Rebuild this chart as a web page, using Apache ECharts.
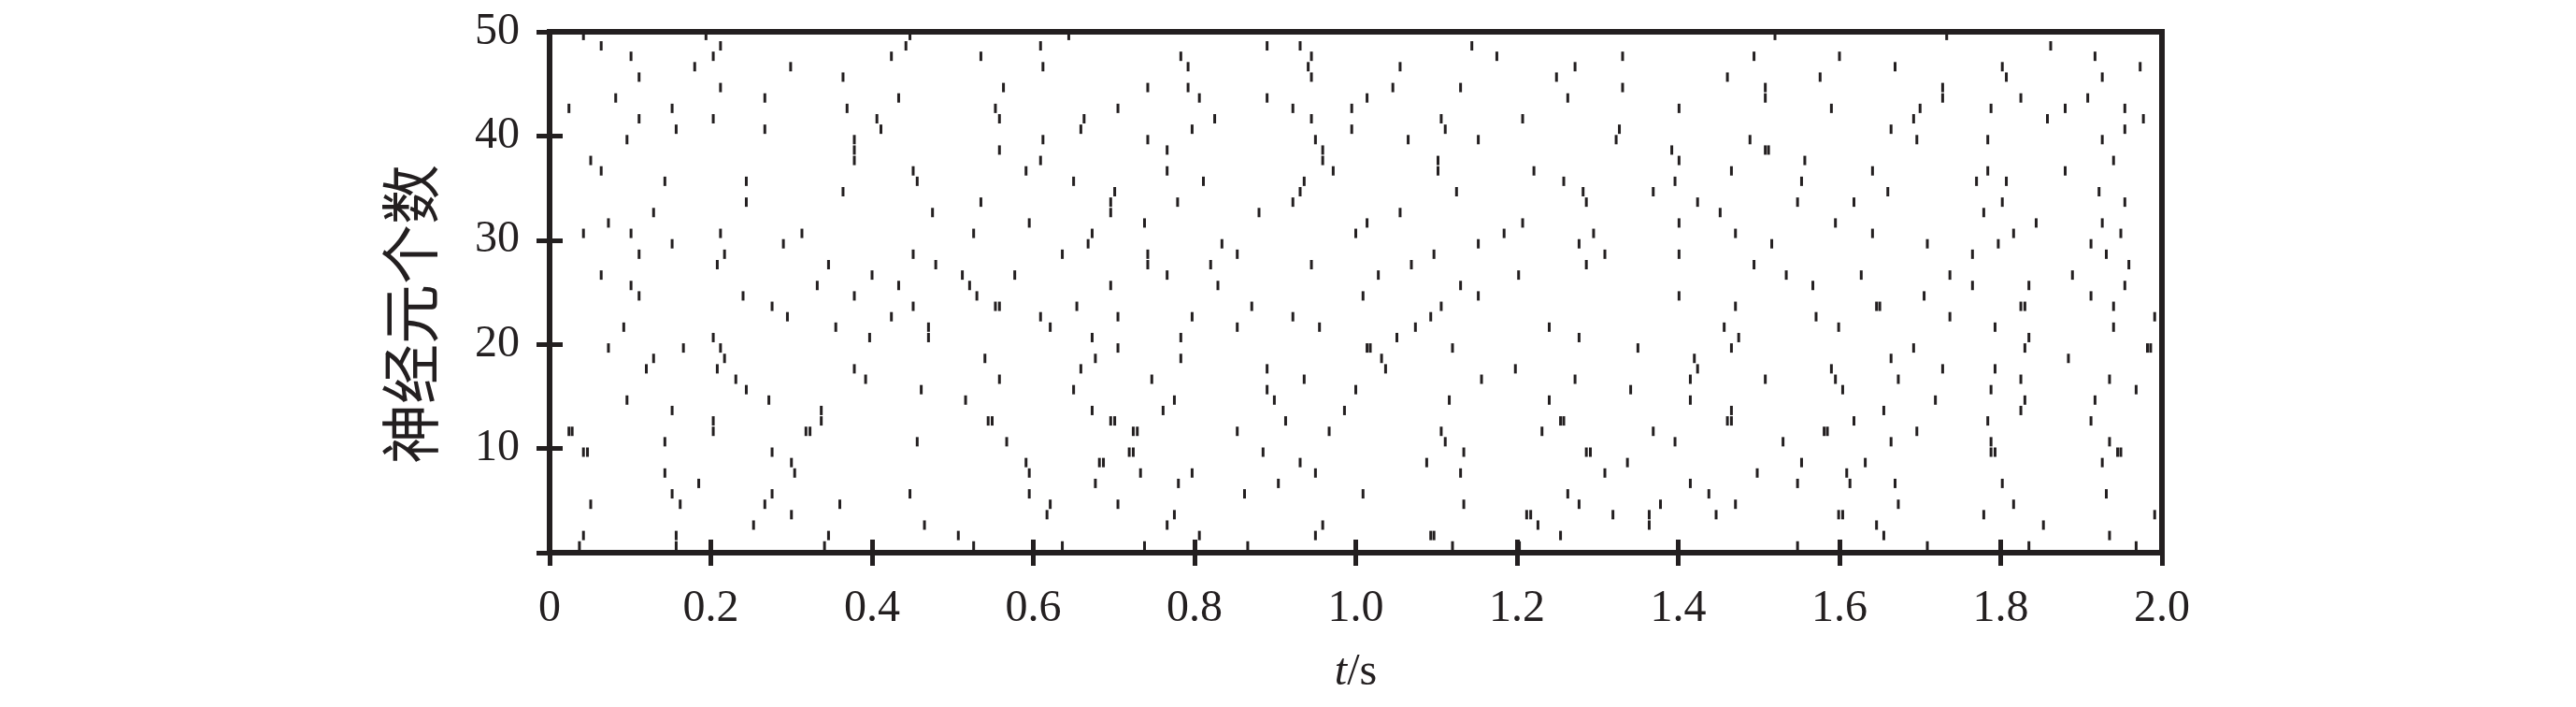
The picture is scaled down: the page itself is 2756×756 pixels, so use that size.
<!DOCTYPE html>
<html><head><meta charset="utf-8">
<script src="https://cdn.jsdelivr.net/npm/echarts@6/dist/echarts.min.js"></script>
<style>html,body{margin:0;padding:0;background:#fff}#c{width:2756px;height:756px}</style>
</head><body><div id="c"></div>
<script>
// spike times (s) per neuron
const n01 = [0.037, 0.157, 0.341, 0.526, 0.636, 0.738, 0.866, 1.120, 1.203, 1.548, 1.709, 1.835, 1.968];
const n02 = [0.042, 0.157, 0.346, 0.507, 0.806, 0.950, 1.093, 1.097, 1.254, 1.655, 1.935];
const n03 = [0.253, 0.465, 0.766, 0.959, 1.226, 1.364, 1.646, 1.853];
const n04 = [0.300, 0.617, 0.775, 1.212, 1.217, 1.319, 1.364, 1.447, 1.599, 1.604, 1.779, 1.991];
const n05 = [0.051, 0.162, 0.267, 0.360, 0.621, 0.705, 1.134, 1.277, 1.378, 1.471, 1.673, 1.816];
const n06 = [0.152, 0.276, 0.447, 0.595, 0.862, 1.009, 1.263, 1.438, 1.931];
const n07 = [0.185, 0.677, 0.780, 0.904, 1.415, 1.548, 1.613, 1.669, 1.802];
const n08 = [0.143, 0.304, 0.595, 0.733, 0.797, 0.950, 1.130, 1.309, 1.498, 1.609];
const n09 = [0.300, 0.591, 0.682, 0.687, 0.931, 1.088, 1.337, 1.553, 1.632, 1.926];
const n10 = [0.042, 0.047, 0.276, 0.719, 0.724, 0.885, 1.134, 1.286, 1.291, 1.788, 1.793, 1.945, 1.949];
const n11 = [0.143, 0.456, 0.567, 1.111, 1.396, 1.530, 1.664, 1.788, 1.935];
const n12 = [0.024, 0.028, 0.203, 0.318, 0.323, 0.724, 0.729, 0.853, 0.967, 1.106, 1.231, 1.369, 1.581, 1.585, 1.696];
const n13 = [0.203, 0.337, 0.544, 0.549, 0.696, 0.701, 0.913, 1.254, 1.258, 1.461, 1.466, 1.618, 1.784, 1.912];
const n14 = [0.152, 0.337, 0.673, 0.761, 0.986, 1.466, 1.655, 1.825];
const n15 = [0.096, 0.272, 0.516, 0.775, 0.899, 1.116, 1.240, 1.415, 1.719, 1.830, 1.917];
const n16 = [0.244, 0.461, 0.650, 0.890, 1.000, 1.341, 1.604, 1.788, 1.968];
const n17 = [0.231, 0.392, 0.558, 0.747, 0.936, 1.156, 1.272, 1.415, 1.508, 1.595, 1.673, 1.825, 1.935];
const n18 = [0.120, 0.208, 0.378, 0.659, 0.890, 1.037, 1.198, 1.424, 1.590, 1.728, 1.793];
const n19 = [0.129, 0.217, 0.540, 0.677, 0.783, 1.032, 1.420, 1.664, 1.884];
const n20 = [0.073, 0.166, 0.212, 0.705, 1.014, 1.018, 1.120, 1.350, 1.466, 1.692, 1.830, 1.982, 1.986];
const n21 = [0.203, 0.397, 0.470, 0.673, 0.783, 1.051, 1.277, 1.475, 1.835];
const n22 = [0.092, 0.355, 0.470, 0.621, 0.853, 0.955, 1.074, 1.240, 1.457, 1.599, 1.793, 1.940];
const n23 = [0.295, 0.424, 0.609, 0.705, 0.797, 0.922, 1.093, 1.571, 1.737, 1.991];
const n24 = [0.276, 0.451, 0.553, 0.558, 0.654, 0.871, 1.106, 1.471, 1.646, 1.650, 1.825, 1.830, 1.940];
const n25 = [0.111, 0.240, 0.378, 0.530, 1.009, 1.152, 1.401, 1.705, 1.912];
const n26 = [0.101, 0.332, 0.433, 0.521, 0.696, 0.829, 1.130, 1.567, 1.765, 1.835, 1.954];
const n27 = [0.064, 0.400, 0.512, 0.577, 0.766, 1.028, 1.202, 1.534, 1.627, 1.737, 1.889];
const n28 = [0.208, 0.346, 0.479, 0.742, 0.820, 0.945, 1.069, 1.286, 1.494, 1.959];
const n29 = [0.111, 0.217, 0.451, 0.636, 0.742, 0.853, 1.097, 1.309, 1.401, 1.765, 1.931];
const n30 = [0.152, 0.290, 0.668, 0.834, 1.152, 1.277, 1.516, 1.709, 1.797, 1.912];
const n31 = [0.042, 0.101, 0.212, 0.313, 0.526, 0.673, 1.000, 1.184, 1.295, 1.471, 1.641, 1.816, 1.949];
const n32 = [0.073, 0.595, 0.738, 1.014, 1.207, 1.401, 1.595, 1.844, 1.926];
const n33 = [0.129, 0.475, 0.696, 0.880, 1.055, 1.452, 1.779];
const n34 = [0.244, 0.535, 0.696, 0.779, 0.922, 1.286, 1.424, 1.548, 1.618, 1.802, 1.954];
const n35 = [0.364, 0.701, 0.931, 1.125, 1.282, 1.369, 1.660, 1.922];
const n36 = [0.143, 0.244, 0.456, 0.650, 0.811, 0.936, 1.258, 1.396, 1.553, 1.770, 1.807];
const n37 = [0.064, 0.451, 0.591, 0.766, 0.972, 1.102, 1.221, 1.466, 1.641, 1.784, 1.880];
const n38 = [0.051, 0.378, 0.609, 0.959, 1.102, 1.401, 1.557, 1.940];
const n39 = [0.378, 0.558, 0.766, 0.959, 1.392, 1.508, 1.512];
const n40 = [0.096, 0.378, 0.612, 0.742, 0.950, 1.065, 1.152, 1.323, 1.489, 1.696, 1.784, 1.926];
const n41 = [0.157, 0.267, 0.411, 0.659, 0.797, 0.995, 1.111, 1.327, 1.664, 1.954];
const n42 = [0.111, 0.203, 0.406, 0.558, 0.663, 0.825, 0.945, 1.106, 1.207, 1.692, 1.858, 1.977];
const n43 = [0.024, 0.152, 0.369, 0.553, 0.705, 0.922, 0.995, 1.401, 1.590, 1.700, 1.788, 1.880, 1.954];
const n44 = [0.082, 0.267, 0.433, 0.806, 0.890, 1.014, 1.263, 1.508, 1.728, 1.825, 1.908];
const n45 = [0.212, 0.563, 0.742, 0.792, 1.046, 1.130, 1.331, 1.508, 1.728];
const n46 = [0.111, 0.364, 0.945, 1.249, 1.461, 1.576, 1.807, 1.926];
const n47 = [0.180, 0.299, 0.612, 0.792, 0.941, 1.055, 1.272, 1.669, 1.802, 1.973];
const n48 = [0.101, 0.203, 0.424, 0.535, 0.783, 0.945, 1.175, 1.331, 1.494, 1.600, 1.917];
const n49 = [0.064, 0.212, 0.442, 0.609, 0.890, 0.931, 1.144, 1.862];
const n50 = [0.042, 0.194, 0.447, 0.644, 1.520, 1.733];

const neurons = [n01,n02,n03,n04,n05,n06,n07,n08,n09,n10,n11,n12,n13,n14,n15,n16,n17,n18,n19,n20,
  n21,n22,n23,n24,n25,n26,n27,n28,n29,n30,n31,n32,n33,n34,n35,n36,n37,n38,n39,n40,
  n41,n42,n43,n44,n45,n46,n47,n48,n49,n50];

const xTickValues = [0, 0.2, 0.4, 0.6, 0.8, 1.0, 1.2, 1.4, 1.6, 1.8, 2.0];
const xTickLabels = ['0', '0.2', '0.4', '0.6', '0.8', '1.0', '1.2', '1.4', '1.6', '1.8', '2.0'];
const yTickValues = [0, 10, 20, 30, 40, 50];
const yTickLabels = ['', '10', '20', '30', '40', '50'];
const yTitle = '神经元个数';

const ROW_SHIFT = 0.35; // spike row drawn slightly below neuron index
const spikeData = [];
neurons.forEach((times, i) => times.forEach(t => spikeData.push([t, i + 1 - ROW_SHIFT])));

const INK = '#231f20';
const SERIF = '"Liberation Serif","Times New Roman",serif';
function labelFor(values, labels, v) {
  for (let i = 0; i < values.length; i++) if (Math.abs(values[i] - v) < 1e-6) return labels[i];
  return '';
}
const tick = { show: true, inside: true, length: 14, lineStyle: { width: 5, color: INK } };

const chart = echarts.init(document.getElementById('c'), null, { renderer: 'canvas' });
chart.setOption({
  animation: false,
  backgroundColor: '#fff',
  grid: { left: 588, right: 443, top: 34, bottom: 165, show: true, borderColor: INK, borderWidth: 6, backgroundColor: 'transparent' },
  xAxis: [{
    type: 'value', min: 0, max: 2, interval: 0.2, position: 'bottom',
    axisLine: { show: false }, splitLine: { show: false }, axisTick: tick,
    axisLabel: { margin: 36, fontSize: 48, fontFamily: SERIF, color: INK,
      formatter: v => labelFor(xTickValues, xTickLabels, v) },
    name: '{i|t}/s', nameLocation: 'middle', nameGap: 104,
    nameTextStyle: { fontSize: 48, fontFamily: SERIF, color: INK,
      rich: { i: { fontSize: 48, fontFamily: SERIF, fontStyle: 'italic', color: INK } } }
  }, {
    type: 'value', min: 0, max: 2, interval: 0.2, position: 'top',
    axisLine: { show: false }, splitLine: { show: false }, axisTick: tick, axisLabel: { show: false }
  }],
  yAxis: [{
    type: 'value', min: 0, max: 50, interval: 10, position: 'left',
    axisLine: { show: false }, splitLine: { show: false }, axisTick: tick,
    axisLabel: { margin: 32, fontSize: 48, fontFamily: SERIF, color: INK,
      formatter: v => labelFor(yTickValues, yTickLabels, v) }
  }, {
    type: 'value', min: 0, max: 50, interval: 10, position: 'right',
    axisLine: { show: false }, splitLine: { show: false }, axisTick: tick, axisLabel: { show: false }
  }],
  graphic: [{
    type: 'text', x: 439, y: 336, rotation: Math.PI / 2,
    style: { text: yTitle, font: '64px "Noto Sans CJK SC"', fill: INK, align: 'center', verticalAlign: 'middle' }
  }],
  series: [{
    type: 'scatter', xAxisIndex: 0, yAxisIndex: 0,
    symbol: 'rect', symbolSize: [3, 10],
    itemStyle: { color: INK, opacity: 1 },
    data: spikeData, z: 3
  }]
});
</script></body></html>
